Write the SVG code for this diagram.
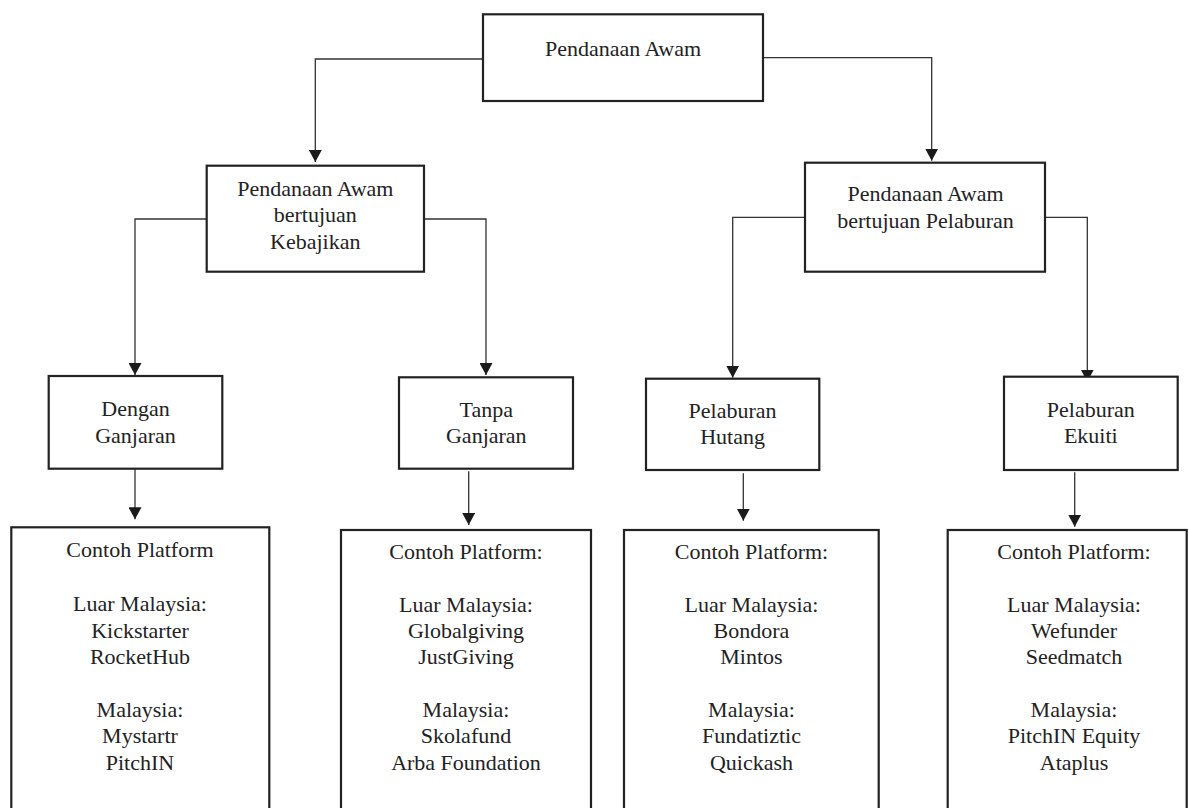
<svg xmlns="http://www.w3.org/2000/svg" width="1189" height="808" viewBox="0 0 1189 808">
<style>
.box{fill:#fff;stroke:#222;stroke-width:2.2}
.t{font-family:"Liberation Serif","Times New Roman",serif;font-size:22px;fill:#222;text-anchor:middle}
.c{fill:none;stroke:#333;stroke-width:1.3}
</style>
<defs>
<marker id="ah" markerUnits="userSpaceOnUse" markerWidth="13" markerHeight="13" refX="12" refY="6.5" orient="auto">
<path d="M0,0 L12,6.5 L0,13 z" fill="#1a1a1a"/>
</marker>
</defs>
<rect width="1189" height="808" fill="#fff"/>
<g id="connectors">
<path class="c" d="M483,59 H315.3 V162" marker-end="url(#ah)"/>
<path class="c" d="M763,57.7 H931.7 V160.7" marker-end="url(#ah)"/>
<path class="c" d="M206.7,219 H135 V375" marker-end="url(#ah)"/>
<path class="c" d="M424,219 H486 V375" marker-end="url(#ah)"/>
<path class="c" d="M805,217.3 H732.7 V377.7" marker-end="url(#ah)"/>
<path class="c" d="M1045,217.3 H1087.3 V381.7" marker-end="url(#ah)"/>
<path class="c" d="M135,469 V519.3" marker-end="url(#ah)"/>
<path class="c" d="M468.7,471.3 V525" marker-end="url(#ah)"/>
<path class="c" d="M743.3,473.3 V520.7" marker-end="url(#ah)"/>
<path class="c" d="M1074.7,472.3 V526.7" marker-end="url(#ah)"/>
</g>
<g id="root">
<rect class="box" x="483" y="14.3" width="280" height="86.7"/>
<text class="t" x="623" y="56">Pendanaan Awam</text>
</g>
<g id="kebajikan">
<rect class="box" x="206.7" y="165.7" width="217.3" height="106"/>
<text class="t" x="315.3" y="195.5">Pendanaan Awam</text>
<text class="t" x="315.3" y="222">bertujuan</text>
<text class="t" x="315.3" y="248.5">Kebajikan</text>
</g>
<g id="pelaburan">
<rect class="box" x="805" y="162.7" width="240" height="109"/>
<text class="t" x="925.5" y="201">Pendanaan Awam</text>
<text class="t" x="925.5" y="227.5">bertujuan Pelaburan</text>
</g>
<g id="dengan">
<rect class="box" x="48.7" y="376" width="173.6" height="92.7"/>
<text class="t" x="135.5" y="416">Dengan</text>
<text class="t" x="135.5" y="442.7">Ganjaran</text>
</g>
<g id="tanpa">
<rect class="box" x="399" y="377.3" width="174" height="91.4"/>
<text class="t" x="486.3" y="416.7">Tanpa</text>
<text class="t" x="486.3" y="442.7">Ganjaran</text>
</g>
<g id="hutang">
<rect class="box" x="646" y="378.7" width="173.3" height="91.3"/>
<text class="t" x="732.6" y="418.3">Pelaburan</text>
<text class="t" x="732.6" y="444">Hutang</text>
</g>
<g id="ekuiti">
<rect class="box" x="1004" y="376.7" width="173.7" height="93.3"/>
<text class="t" x="1090.8" y="416.7">Pelaburan</text>
<text class="t" x="1090.8" y="442.7">Ekuiti</text>
</g>
<g id="contoh1">
<rect class="box" x="11.3" y="527.3" width="258" height="290"/>
<text class="t" x="140" y="557">Contoh Platform</text>
<text class="t" x="140" y="611">Luar Malaysia:</text>
<text class="t" x="140" y="637.5">Kickstarter</text>
<text class="t" x="140" y="664">RocketHub</text>
<text class="t" x="140" y="716.5">Malaysia:</text>
<text class="t" x="140" y="743">Mystartr</text>
<text class="t" x="140" y="769.5">PitchIN</text>
</g>
<g id="contoh2">
<rect class="box" x="341" y="530" width="250" height="290"/>
<text class="t" x="466" y="558.5">Contoh Platform:</text>
<text class="t" x="466" y="611.5">Luar Malaysia:</text>
<text class="t" x="466" y="638">Globalgiving</text>
<text class="t" x="466" y="664">JustGiving</text>
<text class="t" x="466" y="716.5">Malaysia:</text>
<text class="t" x="466" y="743">Skolafund</text>
<text class="t" x="466" y="769.5">Arba Foundation</text>
</g>
<g id="contoh3">
<rect class="box" x="624" y="530" width="254.7" height="290"/>
<text class="t" x="751.5" y="558.5">Contoh Platform:</text>
<text class="t" x="751.5" y="611.5">Luar Malaysia:</text>
<text class="t" x="751.5" y="638">Bondora</text>
<text class="t" x="751.5" y="664">Mintos</text>
<text class="t" x="751.5" y="716.5">Malaysia:</text>
<text class="t" x="751.5" y="743">Fundatiztic</text>
<text class="t" x="751.5" y="769.5">Quickash</text>
</g>
<g id="contoh4">
<rect class="box" x="947.7" y="530" width="239" height="290"/>
<text class="t" x="1074" y="558.5">Contoh Platform:</text>
<text class="t" x="1074" y="611.5">Luar Malaysia:</text>
<text class="t" x="1074" y="638">Wefunder</text>
<text class="t" x="1074" y="664">Seedmatch</text>
<text class="t" x="1074" y="716.5">Malaysia:</text>
<text class="t" x="1074" y="743">PitchIN Equity</text>
<text class="t" x="1074" y="769.5">Ataplus</text>
</g>
</svg>
